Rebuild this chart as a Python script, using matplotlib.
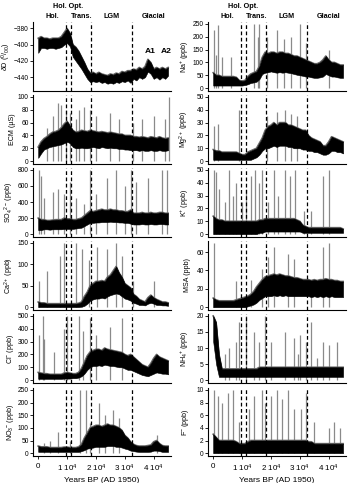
import numpy as np
import matplotlib
matplotlib.use("Agg")
import matplotlib.pyplot as plt
import matplotlib.transforms as mtransforms

plt.rcParams['font.family'] = ['Liberation Sans', 'DejaVu Sans']
plt.rcParams['mathtext.fontset'] = 'custom'
plt.rcParams['mathtext.rm'] = 'Liberation Sans'
plt.rcParams['mathtext.it'] = 'Liberation Sans:italic'

# ---------------- data ----------------
years = [i * 1000 for i in range(46)]          # years BP, envelope grid
boundaries = [9600, 11500, 18250, 32500]       # dashed period limits
period_names = ["Hol.", "Trans.", "LGM", "Glacial"]
period_x = [4800, 14900, 25400, 40000]
xtick_vals = [0, 10000, 20000, 30000, 40000]
xtick_labels = ["0", r"1 10$^4$", r"2 10$^4$", r"3 10$^4$", r"4 10$^4$"]

# dD (permil)
dD_low = [-410, -404, -404, -405, -404, -404, -405, -404, -403, -400, -398, -402,
          -415, -420, -425, -430, -436, -442, -446, -445, -446, -445, -447, -446,
          -448, -447, -448, -446, -447, -445, -446, -444, -447, -442, -444, -440,
          -442, -440, -433, -436, -442, -440, -443, -440, -442, -438]
dD_high = [-392, -390, -392, -392, -393, -392, -392, -392, -390, -385, -380, -386,
           -400, -403, -408, -415, -422, -430, -435, -434, -436, -434, -436, -437,
           -438, -436, -437, -435, -436, -433, -434, -432, -432, -430, -431, -428,
           -430, -427, -418, -422, -430, -428, -430, -428, -430, -428]
dD_spk_x = []
dD_spk_y = []

# ECM
ecm_low = [5, 12, 18, 20, 22, 23, 24, 25, 26, 28, 30, 28, 22, 20, 20, 21, 20, 20,
           21, 22, 21, 20, 22, 21, 20, 21, 20, 20, 19, 19, 18, 18, 17, 17, 17, 16,
           17, 16, 16, 17, 16, 16, 17, 16, 16, 17]
ecm_high = [22, 30, 35, 38, 42, 45, 46, 48, 52, 58, 62, 55, 48, 45, 46, 48, 47, 46,
            48, 47, 46, 45, 46, 45, 44, 45, 44, 43, 42, 42, 40, 40, 40, 38, 38, 37,
            38, 37, 36, 38, 37, 36, 38, 36, 35, 36]
ecm_spk_x = [3000, 5000, 7000, 8000, 9500, 11000, 13000, 14200, 16000, 18000,
             20000, 25000, 28000, 33000, 36000, 40000, 44000, 45200]
ecm_spk_y = [52, 70, 90, 88, 80, 75, 65, 80, 85, 80, 70, 75, 65, 60, 65, 70, 65, 100]

# SO4
so4_low = [50, 50, 60, 60, 55, 60, 60, 60, 60, 65, 65, 65, 65, 70, 75, 80, 100,
           120, 140, 140, 145, 145, 150, 150, 150, 155, 150, 150, 145, 145, 140, 140,
           130, 120, 120, 120, 125, 120, 120, 125, 120, 120, 125, 125, 120, 120]
so4_high = [200, 180, 180, 170, 170, 175, 180, 180, 180, 200, 190, 190, 180, 180,
            190, 200, 230, 260, 290, 280, 290, 300, 310, 300, 300, 310, 300, 300,
            290, 290, 280, 280, 300, 260, 260, 260, 270, 260, 260, 270, 260, 260,
            270, 270, 260, 260]
so4_spk_x = [300, 1000, 2000, 5000, 7000, 9000, 11000, 13000, 16000, 18000,
             20000, 24000, 27000, 30000, 32300, 34000, 38000, 43000, 44500]
so4_spk_y = [800, 720, 450, 520, 560, 500, 650, 450, 380, 800, 500, 700, 800,
             600, 800, 650, 700, 800, 800]

# Ca2+
ca_low = [0, 0, 0, 0, 0, 0, 0, 0, 0, 0, 0, 0, 0, 0, 0, 1, 3, 8, 15, 18, 20, 20,
          22, 20, 25, 28, 30, 32, 30, 25, 20, 18, 15, 10, 8, 5, 5, 4, 8, 10, 8, 5,
          5, 4, 4, 3]
ca_high = [12, 10, 10, 8, 8, 8, 8, 8, 8, 8, 8, 8, 8, 8, 9, 12, 25, 35, 50, 55,
           60, 60, 62, 60, 70, 75, 85, 95, 80, 70, 55, 50, 45, 30, 25, 18, 15, 12,
           22, 28, 22, 18, 15, 12, 12, 10]
ca_spk_x = [300, 3000, 7500, 9000, 13000, 15000, 17500, 20500, 24000, 27000,
            29000, 33000, 40000]
ca_spk_y = [60, 85, 120, 150, 150, 135, 110, 140, 135, 150, 120, 60, 60]

# Cl-
cl_low = [10, 10, 10, 10, 10, 10, 10, 10, 10, 12, 12, 12, 15, 15, 20, 30, 50, 80,
          100, 110, 110, 115, 110, 120, 115, 110, 110, 105, 100, 100, 90, 80, 80,
          70, 60, 50, 40, 35, 30, 40, 50, 60, 55, 50, 50, 45]
cl_high = [60, 55, 50, 50, 45, 45, 45, 45, 45, 55, 60, 55, 50, 50, 60, 90, 140,
           190, 220, 230, 240, 240, 230, 250, 240, 235, 230, 225, 220, 215, 200, 190,
           200, 180, 160, 140, 120, 110, 100, 130, 170, 200, 180, 170, 160, 150]
cl_spk_x = [300, 1500, 2000, 5500, 9000, 10000, 14000, 15500, 18000, 20000,
            25000, 29000]
cl_spk_y = [350, 500, 320, 220, 400, 500, 500, 380, 480, 350, 410, 480]

# NO3-
no3_low = [5, 5, 5, 5, 5, 5, 5, 5, 5, 5, 5, 5, 5, 5, 5, 8, 12, 18, 20, 22, 25, 25,
           25, 25, 28, 28, 28, 25, 25, 22, 18, 15, 10, 8, 6, 5, 5, 5, 5, 6, 10, 10,
           8, 5, 5, 5]
no3_high = [28, 25, 25, 25, 22, 22, 22, 22, 22, 24, 24, 22, 22, 22, 25, 35, 60,
            80, 100, 105, 110, 110, 105, 110, 115, 110, 110, 105, 100, 90, 70, 60,
            45, 35, 30, 28, 28, 28, 30, 32, 45, 50, 38, 30, 28, 28]
no3_spk_x = [2000, 4000, 7000, 11000, 14500, 16500, 18000, 21000, 23000, 26000,
             28000, 41000]
no3_spk_y = [40, 50, 85, 50, 250, 250, 120, 200, 150, 170, 140, 70]

# Na+
na_low = [10, 10, 10, 10, 10, 10, 10, 10, 10, 10, 10, 12, 15, 20, 22, 25, 35, 55,
          60, 62, 65, 62, 60, 62, 60, 62, 60, 58, 55, 52, 50, 48, 45, 45, 42, 40,
          40, 42, 45, 55, 50, 45, 45, 42, 40, 40]
na_high = [60, 50, 50, 45, 45, 45, 45, 45, 42, 30, 28, 30, 45, 55, 60, 65, 85,
           120, 140, 135, 140, 140, 135, 140, 140, 135, 135, 130, 125, 125, 120, 115,
           110, 105, 100, 95, 95, 100, 110, 125, 110, 100, 100, 95, 90, 90]
na_spk_x = [200, 1000, 1500, 3000, 6000, 14000, 15500, 16000, 18500, 22000,
            24500, 27000, 30000, 32300, 40000]
na_spk_y = [225, 130, 245, 120, 120, 250, 200, 250, 200, 225, 190, 200, 250,
            175, 150]

# Mg2+
mg_low = [1, 1, 1, 1, 1, 1, 1, 1, 1, 1, 1, 1, 1, 1, 2, 3, 5, 8, 10, 10, 11, 12,
          11, 12, 12, 12, 11, 11, 10, 10, 10, 9, 9, 8, 8, 7, 7, 6, 5, 5, 6, 8, 8,
          7, 7, 6]
mg_high = [9, 8, 8, 7, 7, 7, 7, 7, 7, 6, 5, 5, 7, 8, 9, 10, 14, 18, 24, 27, 28,
           30, 28, 30, 30, 30, 28, 28, 27, 26, 25, 24, 24, 20, 18, 17, 16, 15, 12,
           12, 15, 19, 18, 17, 16, 15]
mg_spk_x = [300, 1500, 9000, 18500, 22000, 25000, 27000, 29000]
mg_spk_y = [27, 29, 40, 35, 38, 40, 37, 35]

# K+
k_low = [0, 0, 0, 0, 0, 0, 0, 0, 0, 0, 0, 0, 0, 0, 0, 0, 1, 1, 2, 2, 2, 2, 2, 2, 2,
         2, 2, 2, 2, 2, 2, 1, 1, 1, 1, 1, 1, 1, 1, 1, 1, 1, 1, 1, 1, 1]
k_high = [14, 12, 11, 11, 10, 10, 10, 10, 10, 10, 10, 10, 10, 10, 10, 10, 11, 11,
          12, 12, 12, 12, 12, 12, 12, 12, 12, 12, 12, 11, 10, 7, 6, 5, 5, 5, 5, 5,
          5, 5, 5, 5, 5, 5, 5, 4]
k_spk_x = [200, 1000, 2000, 4000, 5500, 7000, 8000, 10000, 11500, 13000, 14500,
           16000, 17000, 19000, 21000, 22500, 25000, 26500, 28500, 31500, 34000,
           38000, 40000]
k_spk_y = [50, 48, 35, 25, 50, 30, 40, 25, 35, 45, 50, 40, 50, 25, 50, 30, 50, 45,
           50, 18, 18, 45, 50]

# MSA
msa_low = [0, 0, 0, 0, 0, 0, 0, 0, 0, 0, 0, 0, 1, 2, 3, 5, 8, 10, 12, 12, 12, 13,
           12, 13, 12, 13, 12, 12, 12, 12, 12, 12, 12, 12, 11, 12, 11, 12, 11, 12,
           11, 12, 11, 11, 11, 11]
msa_high = [10, 8, 7, 7, 7, 7, 7, 7, 8, 9, 10, 11, 12, 14, 17, 22, 26, 30, 33, 34,
            35, 36, 35, 36, 35, 34, 34, 33, 32, 32, 31, 30, 30, 30, 29, 30, 29, 30,
            30, 31, 30, 30, 29, 29, 28, 28]
msa_spk_x = [300, 8000, 13000, 17000, 19000, 21000, 26000, 28000, 34000, 38000,
             40000]
msa_spk_y = [70, 28, 30, 42, 55, 65, 58, 52, 30, 65, 70]

# NH4+
nh4_low = [12, 5, 1, 1, 1, 1, 1, 1, 1, 1, 1, 1, 1, 1, 1, 1, 1, 1, 1, 1, 1, 1, 1,
           1, 1, 1, 1, 1, 1, 1, 1, 1, 1, 1, 1, 1, 1, 1, 1, 1, 1, 1, 1, 1, 1, 1]
nh4_high = [20, 18, 8, 3.5, 3.5, 3.5, 3.5, 3.5, 3.5, 3.5, 3.5, 3.5, 3.5, 3.5, 3.5,
            3.5, 4, 4, 4, 4, 4, 4, 4, 4, 4, 4, 4, 4, 4, 4, 4, 4, 4, 4, 4, 4, 4, 4,
            4, 4, 4, 4, 4, 4, 4, 4]
nh4_spk_x = [4000, 5500, 8000, 9000, 11500, 14000, 16000, 18000, 20000, 25000,
             28000, 29500, 30000, 32000, 34000, 36000, 38000, 40000, 43000]
nh4_spk_y = [8, 10, 12, 18, 20, 15, 12, 20, 12, 15, 13, 8, 14, 12, 18, 7, 12, 11, 12]

# F-
f_low = [0, 0, 0, 0, 0, 0, 0, 0, 0, 0, 0, 0, 0, 0, 0, 0, 0, 0, 0, 0, 0, 0, 0, 0, 0,
         0, 0, 0, 0, 0, 0, 0, 0, 0, 0, 0, 0, 0, 0, 0, 0, 0, 0, 0, 0, 0]
f_high = [3, 2.5, 2, 2, 2, 2, 2, 2, 1.8, 1.5, 1.5, 1.5, 1.8, 2, 2, 2, 2, 2, 2, 2,
          2, 2, 2, 2, 2, 2, 2, 2, 2, 2, 2, 2, 2, 1.8, 1.8, 1.5, 1.5, 1.5, 1.5, 1.5,
          1.5, 1.5, 1.5, 1.5, 1.5, 1.5]
f_spk_x = [200, 1500, 3000, 5000, 7000, 9000, 12500, 14000, 17000, 18000, 20000,
           22000, 24000, 26000, 28000, 30500, 32000, 35000, 40000, 42000, 44000]
f_spk_y = [10, 9, 8, 9.5, 10, 5, 7, 9, 10, 8, 9, 10, 8.5, 10, 7, 7, 9.5, 5, 4, 5, 4]

# ---------------- panel definitions ----------------
left_panels = [
    (r"$\delta$D ($^{0}/_{00}$)", dD_low, dD_high, dD_spk_x, dD_spk_y,
     [-440, -420, -400, -380], (-457, -372)),
    ("ECM (µS)", ecm_low, ecm_high, ecm_spk_x, ecm_spk_y,
     [0, 20, 40, 60, 80, 100], None),
    (r"SO$_4$$^{2-}$ (ppb)", so4_low, so4_high, so4_spk_x, so4_spk_y,
     [0, 200, 400, 600, 800], None),
    (r"Ca$^{2+}$ (ppb)", ca_low, ca_high, ca_spk_x, ca_spk_y,
     [0, 50, 100, 150], None),
    (r"Cl$^{-}$ (ppb)", cl_low, cl_high, cl_spk_x, cl_spk_y,
     [0, 100, 200, 300, 400, 500], None),
    (r"NO$_3$$^{-}$ (ppb)", no3_low, no3_high, no3_spk_x, no3_spk_y,
     [0, 50, 100, 150, 200, 250], None),
]
right_panels = [
    (r"Na$^{+}$ (ppb)", na_low, na_high, na_spk_x, na_spk_y,
     [0, 50, 100, 150, 200, 250], None),
    (r"Mg$^{2+}$ (ppb)", mg_low, mg_high, mg_spk_x, mg_spk_y,
     [0, 10, 20, 30, 40, 50], None),
    (r"K$^{+}$ (ppb)", k_low, k_high, k_spk_x, k_spk_y,
     [0, 10, 20, 30, 40, 50], None),
    ("MSA (ppb)", msa_low, msa_high, msa_spk_x, msa_spk_y,
     [0, 20, 40, 60], (-3, 72)),
    (r"NH$_4$$^{+}$ (ppb)", nh4_low, nh4_high, nh4_spk_x, nh4_spk_y,
     [0, 5, 10, 15, 20], None),
    (r"F$^{-}$ (ppb)", f_low, f_high, f_spk_x, f_spk_y,
     [0, 2, 4, 6, 8, 10], None),
]

# ---------------- layout ----------------
W, H = 350, 483
fig = plt.figure(figsize=(W / 100, H / 100), dpi=100)
rows_px = [(22, 91), (95, 164), (168, 237), (241, 310), (314, 383), (388, 456)]
cols_px = [(33, 171), (208, 346)]
FS = 4.8


def draw_panel(ax, spec, bottom, top_row, label_x):
    label, lo, hi, sx, sy, ticks, ylim = spec
    if len(sx):
        ax.vlines(sx, ticks[0], sy, colors="#8a8a8a", lw=0.9, zorder=1)
    ax.plot(years, hi, color="#666666", lw=1.2, zorder=1.5)
    ax.fill_between(years, lo, hi, color="black", lw=0.4, edgecolor="black", zorder=2)
    for b in boundaries:
        ax.axvline(b, color="black", lw=0.9, ls=(0, (3, 2)), zorder=3)
    ax.set_xlim(-1800, 46000)
    if ylim is None:
        r = ticks[-1] - ticks[0]
        ylim = (ticks[0] - 0.045 * r, ticks[-1] + 0.03 * r)
    ax.set_ylim(*ylim)
    ax.set_yticks(ticks)
    ax.set_xticks(xtick_vals)
    for s in ["top", "right"]:
        ax.spines[s].set_visible(False)
    ax.spines["left"].set_linewidth(0.8)
    ax.spines["bottom"].set_linewidth(0.8)
    ax.tick_params(axis="both", labelsize=FS, length=2, width=0.6, pad=1.0,
                   direction="out")
    ax.set_ylabel(label, fontsize=FS + 0.3)
    ax.yaxis.set_label_coords(label_x, 0.5)
    if bottom:
        ax.set_xticklabels(xtick_labels)
        ax.tick_params(axis="x", labelsize=FS + 1.0, pad=3)
        ax.set_xlabel("Years BP (AD 1950)", fontsize=FS + 1.2, labelpad=2)
    else:
        ax.tick_params(axis="x", labelbottom=False, length=0)
    if top_row:
        trans = mtransforms.blended_transform_factory(ax.transData, ax.transAxes)
        ax.text(10500, 1.0 + 16 / 69, "Hol. Opt.", transform=trans, ha="center",
                va="center", fontsize=FS + 0.4, fontweight="bold")
        for nm, px in zip(period_names, period_x):
            ax.text(px, 1.0 + 6 / 69, nm, transform=trans, ha="center",
                    va="center", fontsize=FS + 0.4, fontweight="bold")


for ci, panels in enumerate([left_panels, right_panels]):
    x0, x1 = cols_px[ci]
    for ri, spec in enumerate(panels):
        t, b = rows_px[ri]
        ax = fig.add_axes([x0 / W, 1 - b / H, (x1 - x0) / W, (b - t) / H])
        lx = -0.145 if (ci == 0 and ri == 0) else -0.12
        draw_panel(ax, spec, ri == 5, ri == 0, lx)
        if ci == 0 and ri == 0:
            ax.text(38800, -408, "A1", fontsize=FS + 1.3, fontweight="bold",
                    ha="center", va="center")
            ax.text(44300, -408, "A2", fontsize=FS + 1.3, fontweight="bold",
                    ha="center", va="center")

fig.savefig("out.png", dpi=100)
